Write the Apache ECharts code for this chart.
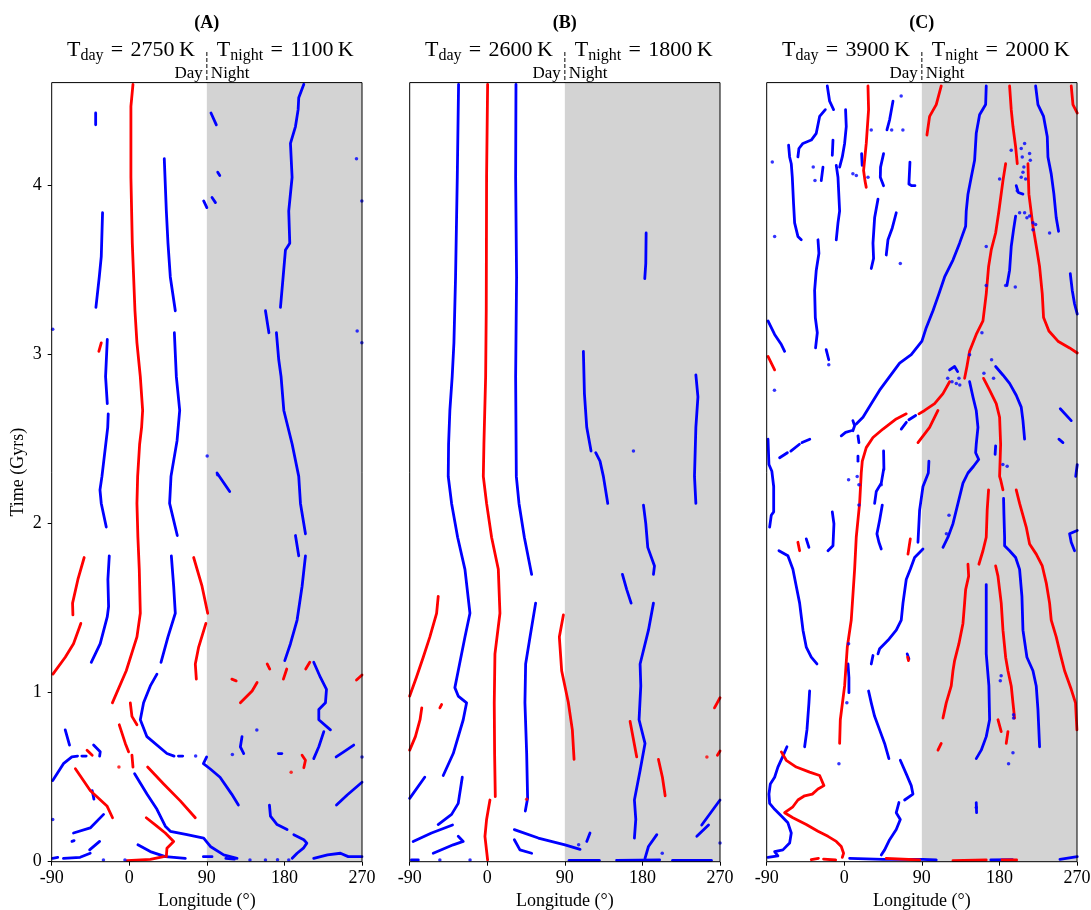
<!DOCTYPE html>
<html><head><meta charset="utf-8">
<script src="https://cdn.jsdelivr.net/npm/echarts@6/dist/echarts.min.js"></script>
<style>html,body{margin:0;padding:0;background:#fff}#c{width:1091px;height:910px}</style>
</head><body><div id="c"></div>
<script>
// ---------------- data ----------------
const lonTicks = [-90, 0, 90, 180, 270];
const timeTicks = [0, 1, 2, 3, 4];
const timeMax = 4.61;
const nightStart = 90;
const panelTitles = ['(A)', '(B)', '(C)'];
const dayTemps = [2750, 2600, 3900];
const nightTemps = [1100, 1800, 2000];

// Panel A
const A_red = [
 [[4.3,4.60],[1.9,4.47],[1.9,4.05],[3.5,3.66],[6.6,3.26],[8.9,3.07],[12.8,2.87],[15.5,2.67],[14.3,2.57],[12.0,2.47],[9.7,2.28],[8.9,2.12],[10,1.92],[11.6,1.73],[12.8,1.47],[8.9,1.33],[-3.5,1.13],[-19.6,0.94]],
 [[-32.5,3.07],[-35.3,3.02]],
 [[-52.3,1.80],[-59.6,1.67],[-65.8,1.53],[-65.4,1.46]],
 [[74.7,1.80],[84.4,1.63],[91,1.47]],
 [[88.9,1.41],[80.5,1.27],[76.6,1.17],[77.8,1.08]],
 [[-56.2,1.41],[-64.7,1.29],[-74.3,1.21],[-88.6,1.11]],
 [[1.2,0.94],[3.1,0.86],[8.9,0.81]],
 [[-11.6,0.81],[-4.6,0.70],[-0.8,0.65]],
 [[3.1,0.63],[4.3,0.56]],
 [[-49,0.66],[-43,0.63]],
 [[-62.5,0.55],[-45.1,0.42],[-25.9,0.33],[-19.4,0.26]],
 [[21.3,0.56],[39.9,0.46],[59.2,0.36],[76.6,0.26]],
 [[148.3,1.06],[142.5,1.01],[128.9,0.94]],
 [[119,1.08],[124,1.07]],
 [[160,1.17],[163,1.14]],
 [[182.7,1.14],[178.8,1.08]],
 [[209.4,1.18],[204.7,1.14]],
 [[200.5,0.63],[204.4,0.60],[202.5,0.556]],
 [[263.6,1.075],[270,1.105]],
 [[19.7,0.26],[32,0.21],[41.8,0.17],[51.5,0.12],[43.7,0.08],[43,0.03]],
 [[-2.7,0.006],[24.4,0.014],[39.9,0.03]]
];
const A_redDots = [[-12,0.56],[187.8,0.53]];
const A_blue = [
 [[-39,4.43],[-39,4.36]],
 [[40.6,4.16],[43,3.85],[44.9,3.66],[47.6,3.46],[53.4,3.26]],
 [[-31,3.84],[-32.5,3.58],[-34.8,3.46],[-38.7,3.28]],
 [[-25.5,3.09],[-27.5,2.87],[-25.5,2.71]],
 [[-24.4,2.65],[-25,2.57],[-31.7,2.28],[-34,2.2],[-32.5,2.12],[-26.7,1.98]],
 [[52.3,3.13],[54.6,2.87],[58.5,2.67],[55.4,2.49],[48.4,2.28],[46.8,2.12],[55.7,1.93]],
 [[202.5,4.60],[196.6,4.52],[195.9,4.45],[192.8,4.35],[187,4.25],[188.9,4.05],[185,3.85],[186.2,3.66],[181.2,3.62],[178.5,3.46],[175.4,3.28]],
 [[158,3.26],[162,3.13]],
 [[170.7,3.13],[173.4,2.97],[176.1,2.87],[179.3,2.67],[189,2.47],[196.6,2.28],[198.6,2.12],[204.4,1.94]],
 [[94.8,4.43],[101,4.36]],
 [[102.6,4.08],[105,4.06]],
 [[86.3,3.91],[90,3.87]],
 [[96,3.93],[100,3.90]],
 [[101.8,2.30],[116.5,2.19]],
 [[192.8,1.93],[196.6,1.81]],
 [[204.4,1.81],[200.5,1.63],[194.7,1.43],[187,1.29],[180.4,1.19]],
 [[-23.2,1.81],[-24.8,1.67],[-24,1.51],[-25.5,1.45],[-33.7,1.29],[-44.1,1.18]],
 [[48.8,1.81],[51.5,1.63],[53.4,1.47],[44.9,1.33],[36.8,1.18]],
 [[32.1,1.11],[24.4,1.04],[16.6,0.94],[12.8,0.84],[20.5,0.74],[43.7,0.64],[52,0.625]],
 [[57,0.625],[62,0.625]],
 [[-74.3,0.78],[-69.3,0.69]],
 [[-41.4,0.69],[-33.7,0.65],[-34.4,0.625]],
 [[-88.8,0.48],[-76.4,0.58],[-66.6,0.62],[-60,0.625]],
 [[-55,0.625],[-50,0.625]],
 [[-43,0.42],[-41,0.37]],
 [[6.2,0.52],[20.5,0.40],[32.1,0.31],[41.8,0.21],[47.6,0.18],[67,0.16],[86.3,0.14],[94.1,0.09],[109.5,0.04],[125,0.02]],
 [[89.8,0.62],[86,0.58],[93.7,0.55],[105.3,0.50],[118.8,0.40],[126.6,0.335]],
 [[162.6,0.335],[163.8,0.27],[171.5,0.22],[183.1,0.19]],
 [[190.9,0.16],[202.5,0.13],[206,0.11],[202,0.08],[194.7,0.05],[189,0.02]],
 [[214,1.18],[221.8,1.09],[228.8,1.02],[227.6,0.94],[219.9,0.90],[219.9,0.84],[233.4,0.78]],
 [[225.7,0.77],[219.9,0.68],[214,0.61]],
 [[130.8,0.74],[128.9,0.68],[132.8,0.64]],
 [[173,0.64],[177,0.64]],
 [[240,0.62],[248.8,0.65],[260.4,0.69]],
 [[240.4,0.335],[252.8,0.395],[270,0.47]],
 [[-64.7,0.17],[-45.3,0.20],[-29.8,0.28]],
 [[-66.5,0.12],[-64,0.125]],
 [[-46,0.07],[-34.4,0.12]],
 [[-76.4,0.02],[-57,0.026],[-45.3,0.05]],
 [[-89,0.02],[-83,0.025]],
 [[10,0.10],[24.4,0.06],[41.8,0.03],[65,0.02]],
 [[86,0.03],[96,0.03]],
 [[112,0.02],[122,0.015]],
 [[214,0.02],[230,0.04],[245,0.05],[254,0.03],[270,0.03]]
];
const A_blueDots = [[263.6,4.16],[269.8,3.91],[264.4,3.14],[269.8,3.07],[-88.8,3.15],[90.4,2.40],[102.4,2.29],[148,0.78],[119.6,0.635],[-88.8,0.25],[270,0.62],[77,0.625],[-30,0.01],[140,0.01],[158,0.01],[172,0.012],[185,0.01],[-5,0.01]];

// Panel B
const B_red = [
 [[0.4,4.60],[-0.8,4.05],[-1.2,3.26],[-1.9,2.87],[-3.9,2.47],[-4.6,2.28],[-0.8,2.12],[5,1.92],[12.8,1.73],[14.7,1.47],[8.9,1.23],[8.1,0.94],[8.5,0.64],[9.3,0.385]],
 [[-56.9,1.57],[-58.8,1.47],[-66.6,1.33],[-74.3,1.21],[-82.3,1.09],[-90,0.98]],
 [[-53,0.93],[-55,0.91]],
 [[-76,0.91],[-78,0.84],[-83.4,0.74],[-90,0.66]],
 [[3.1,0.365],[-0.8,0.25],[-2.7,0.15],[0.4,0.01]],
 [[88.3,1.46],[83.6,1.33],[86.3,1.13],[94.1,0.94],[98.7,0.78],[100.7,0.605]],
 [[165.7,0.83],[173.4,0.62]],
 [[198.6,0.605],[203.2,0.50],[206.4,0.39]],
 [[270,0.97],[263.6,0.91]],
 [[270,0.655],[267,0.63]]
];
const B_redDots = [[254.8,0.62],[45.7,0.37]];
const B_blue = [
 [[-33.3,4.60],[-34.8,4.05],[-36.8,3.46],[-38.7,3.07],[-40.7,2.87],[-43.4,2.67],[-44.9,2.47],[-45.3,2.28],[-41.4,2.12],[-34.4,1.92],[-25.9,1.73],[-20.1,1.47],[-25.9,1.33],[-33.7,1.13],[-37.6,1.03],[-33.7,0.98],[-24,0.94],[-27.9,0.84],[-39.5,0.64],[-51.1,0.51]],
 [[33.3,4.60],[32.9,4.05],[34,3.46],[32.9,2.87],[33.7,2.28],[36.8,2.12],[43,1.92],[51.5,1.70]],
 [[56.1,1.53],[49.6,1.33],[44.5,1.17],[43.7,0.94],[45.7,0.64],[46.8,0.375],[44.1,0.30]],
 [[-72.6,0.50],[-90,0.375]],
 [[-29,0.50],[-33.7,0.345],[-41.4,0.28],[-57,0.22]],
 [[-40.3,0.217],[-64.7,0.17],[-86,0.12]],
 [[-33.7,0.15],[-27.9,0.12],[-39.5,0.10],[-62.7,0.05]],
 [[31.4,0.19],[59.2,0.14],[90.2,0.10],[107.7,0.073]],
 [[31.4,0.13],[37.9,0.07],[51.5,0.05]],
 [[184.3,3.72],[183.9,3.54],[182.7,3.45]],
 [[111.5,3.02],[112.7,2.77],[115.4,2.57],[120.4,2.43]],
 [[125.8,2.42],[130.8,2.37],[134.7,2.28],[139.8,2.12]],
 [[242,2.88],[244.4,2.75],[242,2.57],[240.4,2.28],[242,2.12]],
 [[181.2,2.11],[183.9,2.0],[186.2,1.86],[194,1.75],[192.8,1.70]],
 [[156.8,1.70],[161.8,1.61],[166.9,1.53]],
 [[192.8,1.53],[187,1.37],[177.3,1.17],[178.1,1.04],[176.1,0.84],[183,0.70],[177.3,0.54],[170.7,0.365],[172.3,0.25],[170.7,0.14]],
 [[270,0.365],[248.8,0.217]],
 [[256.7,0.217],[243.1,0.15]],
 [[196.7,0.16],[187,0.09],[183,0.02]],
 [[119.2,0.17],[115.4,0.12]],
 [[-88,0.01],[-80,0.01]],
 [[95,0.008],[130,0.008]],
 [[150,0.008],[200,0.01]],
 [[215,0.008],[260,0.008]]
];
const B_blueDots = [[169.6,2.43],[106,0.10],[203,0.05],[270,0.11],[-55,0.01],[-20,0.01]];

// Panel C
const C_red = [
 [[27.5,4.59],[28.2,4.45],[25.5,4.25],[22.4,4.09],[24,4.03],[25.5,3.99]],
 [[-88.5,2.99],[-80.8,2.91]],
 [[112.5,4.59],[106.7,4.48],[99,4.41],[95.9,4.30]],
 [[191.8,4.59],[193.7,4.45],[195.7,4.35],[198.8,4.23],[200.7,4.13]],
 [[263.3,4.59],[265.3,4.48],[270.3,4.43]],
 [[187.2,4.13],[184.1,4.03],[179.4,3.85],[175.6,3.72],[170.5,3.62],[167.4,3.52],[164.7,3.36],[160.9,3.20],[153.1,3.12],[145.4,3.02],[142.3,2.93],[139.6,2.86]],
 [[122.2,2.84],[114.5,2.77],[104.8,2.71],[93.2,2.67],[86.6,2.65]],
 [[213.1,4.13],[214.2,3.95],[218.9,3.76],[223.5,3.62],[226.6,3.52],[229.7,3.36],[231.2,3.22],[237.4,3.14],[247.9,3.08],[261.4,3.04],[270.3,3.01]],
 [[71.9,2.65],[60.3,2.62],[44.9,2.56],[33.3,2.51],[25.5,2.45],[20.9,2.37],[19.7,2.30],[17.8,2.12],[13.9,1.92],[12,1.73],[8.1,1.43],[3.5,1.27],[0.4,1.04],[-4.6,0.84],[-5.4,0.70]],
 [[108.7,2.67],[99,2.57],[85.5,2.48]],
 [[161.6,2.86],[168.6,2.79],[176.3,2.71],[180.2,2.63],[181.4,2.47],[180.2,2.28],[181.4,2.26],[184.1,2.20]],
 [[-53.8,1.89],[-51.8,1.84]],
 [[76.6,1.91],[73.9,1.82]],
 [[167.4,2.20],[165.8,2.08],[164.7,1.92],[160.9,1.84],[156.2,1.76]],
 [[199.5,2.20],[203.4,2.12],[211.1,1.98],[215,1.88],[222.7,1.82],[229.7,1.75],[234.3,1.65],[238.2,1.53],[240.1,1.43],[245.9,1.33],[250.6,1.23],[255.6,1.13],[263.3,1.02],[268.3,0.94],[269.9,0.78]],
 [[143.5,1.76],[144.3,1.69],[140.8,1.61],[139.6,1.53],[137.7,1.41],[133,1.29],[128,1.19],[126.1,1.13],[124.1,1.04],[118.3,0.94],[114.5,0.85]],
 [[175.6,1.75],[178.3,1.69],[182.1,1.53],[184.1,1.37],[187.2,1.21],[189.9,1.13],[193.7,1.04],[195.7,0.94],[197.6,0.85]],
 [[112.5,0.70],[108.7,0.66]],
 [[178.3,0.84],[182.1,0.77]],
 [[189.9,0.77],[187.9,0.70]],
 [[73.5,1.21],[74.5,1.19]],
 [[-73,0.65],[-67.3,0.60],[-55.7,0.56],[-40.2,0.53],[-28.6,0.51],[-23.6,0.45],[-30.5,0.43],[-37.1,0.40],[-46,0.39],[-53.8,0.365],[-59.6,0.325],[-69.2,0.29],[-59.6,0.26],[-44.1,0.22],[-30.5,0.18],[-18.9,0.15],[-9.3,0.12],[-3.5,0.09],[-0.8,0.05],[-2.3,0.026]],
 [[-38.3,0.012],[-30,0.02]],
 [[-24,0.015],[-10,0.01]],
 [[48.7,0.02],[87.4,0.01]],
 [[126.1,0.006],[164.7,0.01]],
 [[183,0.01],[200,0.01]]
];
const C_redDots = [];
const C_blue = [
 [[-19.7,4.59],[-17,4.50],[-12.4,4.45]],
 [[56.5,4.5],[52.6,4.39],[49.5,4.33]],
 [[1.5,4.45],[2.3,4.35],[0.4,4.25],[-2.3,4.17],[-5.4,4.11]],
 [[-22,4.45],[-28.6,4.41],[-32.5,4.31],[-38.3,4.27],[-48,4.25],[-52.6,4.22],[-53.8,4.17]],
 [[-64.6,4.24],[-63.4,4.17],[-61.5,4.13],[-60.3,4.05],[-58.8,3.89],[-57.6,3.78],[-53.8,3.70],[-49.9,3.68]],
 [[-13.1,4.27],[-13.9,4.18]],
 [[-9.3,4.12],[-7.3,4.05],[-5.4,3.85],[-7.3,3.78],[-9.3,3.68]],
 [[-24.7,4.11],[-26.7,4.03]],
 [[20.1,4.19],[20.8,4.12]],
 [[45.6,4.19],[42.1,4.11],[41.8,4.05],[45.6,4.0]],
 [[76.2,4.14],[75,4.01],[78,4.0],[82,4.0]],
 [[39.1,3.92],[35.2,3.81],[33.3,3.66],[34,3.57],[31.3,3.51]],
 [[60.3,3.84],[55.7,3.75],[50.7,3.68],[48.7,3.59]],
 [[-30.5,3.68],[-29.4,3.60],[-32.5,3.50],[-34.4,3.38],[-33.6,3.22],[-31.3,3.13],[-33.3,3.04]],
 [[-88.5,3.20],[-80.8,3.12],[-73,3.06],[-69.2,3.02]],
 [[-21,3.03],[-18,2.97]],
 [[164.7,4.59],[164,4.48],[157,4.42],[153.1,4.31],[151.2,4.15],[147.3,4.05],[143.5,3.95],[141.5,3.85],[140.8,3.76],[133.8,3.66],[126.1,3.56],[116.4,3.46],[109.8,3.36],[102.9,3.26],[95.1,3.16],[90.1,3.08],[77.7,3.0],[64.2,2.95],[52.6,2.87],[41,2.79],[31.3,2.71],[21.7,2.63],[13.9,2.59]],
 [[10,2.61],[12,2.58],[10,2.55]],
 [[-3.5,2.52],[1.5,2.54],[8,2.55]],
 [[222,4.59],[224.7,4.48],[231.2,4.41],[235.5,4.29],[236.3,4.17],[240.1,4.07],[243.2,3.95],[245.9,3.81],[248.6,3.73]],
 [[198.8,3.82],[196.4,3.74],[193.7,3.64],[191.8,3.50],[188.7,3.41]],
 [[199.5,4.0],[201.8,3.96],[207.3,3.95]],
 [[262.2,3.48],[264.5,3.38],[267.2,3.30],[270.3,3.24]],
 [[122.2,2.91],[128,2.93],[131.5,2.90]],
 [[175.6,2.93],[184,2.88],[191.8,2.83],[199.5,2.76],[205.3,2.69],[207.3,2.61],[209.2,2.50]],
 [[250.6,2.68],[263.3,2.61]],
 [[249,2.50],[253.7,2.48]],
 [[66.1,2.56],[72,2.60]],
 [[75,2.615],[82.8,2.64]],
 [[145.4,2.84],[149.3,2.75],[153.1,2.67],[155.1,2.57],[153.1,2.47],[152.4,2.42],[156,2.38],[150,2.34],[143.5,2.30],[137.7,2.24],[131.9,2.12],[126.1,2.0],[120.3,1.92],[114.5,1.86]],
 [[-88.5,2.50],[-87.4,2.35],[-84,2.31],[-82.7,2.30],[-81.9,2.22],[-81.9,2.07],[-84.7,2.05],[-86.6,1.98]],
 [[-75,2.39],[-66,2.42]],
 [[-62,2.43],[-52,2.47]],
 [[-49,2.48],[-40,2.50]],
 [[15.9,2.52],[17,2.48]],
 [[15.9,2.40],[15.9,2.37]],
 [[45.6,2.43],[46,2.32]],
 [[98.2,2.37],[97.5,2.30],[91.3,2.22],[87.4,2.08],[85.5,1.89]],
 [[175.6,2.46],[175,2.41]],
 [[270.3,2.35],[268.5,2.28]],
 [[45.6,2.32],[42.9,2.24],[37.1,2.19],[35.2,2.12]],
 [[44.1,2.11],[41,2.02],[37.9,1.94],[40.2,1.89],[42.9,1.85]],
 [[-13.9,2.07],[-12,2.0],[-13.1,1.87],[-18.9,1.84]],
 [[-44.1,1.91],[-41,1.86]],
 [[91.3,1.85],[81.6,1.80],[76.6,1.73],[71.9,1.67],[68.1,1.53],[66.1,1.43],[60.3,1.37],[50.7,1.31],[41,1.26],[39.1,1.23]],
 [[33.3,1.22],[31.3,1.17]],
 [[184.8,2.15],[185.2,2.06],[186,1.92],[186,1.87],[191.8,1.84],[198.8,1.80],[203.4,1.73],[206.1,1.57],[207.3,1.37],[211.9,1.21],[218.9,1.13],[222.7,1.04],[224.7,0.90],[226.6,0.68]],
 [[270.3,1.96],[261.4,1.94],[263.3,1.89],[267.2,1.84]],
 [[164.7,1.64],[164.7,1.43],[164.7,1.23],[167.8,1.04],[168.6,0.84],[164.7,0.74],[158.9,0.66],[153.1,0.61]],
 [[28.2,1.01],[31.3,0.94],[35.2,0.86],[41,0.78],[46.8,0.70],[51.8,0.61]],
 [[65,0.60],[71.9,0.52],[77.7,0.45],[79.7,0.40],[70,0.365]],
 [[63.4,0.35],[60.3,0.29],[65,0.25],[60.3,0.19],[52.6,0.13],[46.8,0.07],[42.9,0.04]],
 [[-40.2,1.01],[-41,0.94],[-43.3,0.78],[-46,0.68]],
 [[-75.8,1.84],[-65.4,1.81],[-59.6,1.73],[-55.7,1.63],[-51.8,1.53],[-47.9,1.37],[-44.1,1.27],[-38.3,1.21],[-31.7,1.17]],
 [[4.3,1.17],[5.4,1.09],[5.4,1.0]],
 [[73,1.23],[75,1.20]],
 [[153.1,0.35],[153.5,0.29]],
 [[-66.5,0.68],[-71.2,0.625],[-77,0.56],[-80.8,0.50],[-85.8,0.46],[-87.4,0.40],[-86.6,0.345],[-80.8,0.31],[-73,0.27],[-65.4,0.23],[-61.5,0.17],[-63.4,0.11],[-71.2,0.07],[-80.8,0.06],[-77,0.035],[-88.5,0.026]],
 [[6.2,0.02],[44.9,0.014],[91.3,0.014],[106.7,0.01]],
 [[250.2,0.014],[270.3,0.03]],
 [[170,0.01],[195,0.012]]
];
const C_blueDots = [[31.3,4.33],[55,4.33],[68,4.33],[66,4.53],[10,4.07],[14,4.06],[27.5,4.05],[-36,4.11],[-34,4.03],[-83.5,4.14],[-80.8,3.70],[65,3.54],
 [193.7,4.21],[205.3,4.22],[209.2,4.25],[215,4.19],[206.5,4.17],[215.8,4.15],[208.4,4.11],[207.3,4.08],[205.3,4.05],[210.4,4.04],[180.2,4.04],[200.7,3.97],[203.4,3.84],[209.2,3.84],[211.9,3.81],[215,3.82],[218.9,3.78],[222,3.77],[218.9,3.74],[238.2,3.72],[164.7,3.64],[164.7,3.41],[187.2,3.41],[198.4,3.40],[159.7,3.13],
 [120,2.86],[125,2.84],[130,2.83],[133,2.86],[134,2.82],[145.4,3.0],[162,2.89],[173.2,2.86],[170.9,2.97],
 [-18,2.94],[-81,2.79],[184,2.35],[189,2.34],[15,2.28],[17,2.23],[5,2.26],[17,2.11],[42.9,2.23],
 [121.5,2.05],[118.5,1.94],[182,1.10],[181,1.07],[196.4,0.87],[196.4,0.85],[5,1.29],[3,0.94],[-6.2,0.58],[195.7,0.645],[190.6,0.58],[153.1,0.32]];

// ---------------- chart ----------------
const FONT = 'Liberation Serif';
const RED = '#ff0000', BLUE = '#0000ff', GRAY = '#d3d3d3';
const GRID_LEFTS = [51.7, 409.7, 766.7];
const GRID_TOP = 82.6, GRID_W = 310.3, GRID_H = 779.1;

const panels = [
 {red: A_red, blue: A_blue, redDots: A_redDots, blueDots: A_blueDots},
 {red: B_red, blue: B_blue, redDots: B_redDots, blueDots: B_blueDots},
 {red: C_red, blue: C_blue, redDots: C_redDots, blueDots: C_blueDots}
];

const grid = [], xAxis = [], yAxis = [], series = [];
panels.forEach((p, i) => {
  grid.push({left: GRID_LEFTS[i], top: GRID_TOP, width: GRID_W, height: GRID_H, show: true,
    containLabel: false, outerBoundsMode: 'none',
    borderColor: '#000', borderWidth: 1, backgroundColor: 'rgba(0,0,0,0)', z: 20});
  xAxis.push({gridIndex: i, type: 'value', min: lonTicks[0], max: lonTicks[lonTicks.length - 1], interval: 90,
    name: 'Longitude (°)', nameLocation: 'middle', nameGap: 28,
    nameTextStyle: {fontFamily: FONT, fontSize: 18, color: '#000'},
    axisLine: {show: false, onZero: false}, splitLine: {show: false},
    axisTick: {show: true, length: 4, inside: false, lineStyle: {color: '#000', width: 1}},
    axisLabel: {fontFamily: FONT, fontSize: 18, color: '#000', margin: 8}});
  yAxis.push({gridIndex: i, type: 'value', min: 0, max: timeMax,
    name: i === 0 ? 'Time (Gyrs)' : '', nameLocation: 'middle', nameGap: 24, nameRotate: 90,
    nameTextStyle: {fontFamily: FONT, fontSize: 18, color: '#000'},
    axisLine: {show: false, onZero: false}, splitLine: {show: false},
    axisTick: {show: i === 0, length: 4, customValues: timeTicks, lineStyle: {color: '#000', width: 1}},
    axisLabel: {show: i === 0, customValues: timeTicks, fontFamily: FONT, fontSize: 18, color: '#000', margin: 10}});
  // night shading
  series.push({type: 'line', xAxisIndex: i, yAxisIndex: i, data: [[nightStart, 0]], showSymbol: false, symbol: 'none',
    lineStyle: {opacity: 0}, silent: true, z: 1,
    markArea: {silent: true, itemStyle: {color: GRAY}, data: [[{xAxis: nightStart}, {xAxis: lonTicks[lonTicks.length - 1]}]]}});
  const addLines = (segs, color) => segs.forEach(seg => series.push({
    type: 'line', xAxisIndex: i, yAxisIndex: i, data: seg, showSymbol: false, symbol: 'none', silent: true, z: 5,
    lineStyle: {color: color, width: 2.8, cap: 'round', join: 'round'}}));
  addLines(p.blue, BLUE);
  addLines(p.red, RED);
  series.push({type: 'scatter', xAxisIndex: i, yAxisIndex: i, data: p.blueDots, symbolSize: 3.5, silent: true, z: 5,
    itemStyle: {color: BLUE}});
  series.push({type: 'scatter', xAxisIndex: i, yAxisIndex: i, data: p.redDots, symbolSize: 3.5, silent: true, z: 5,
    itemStyle: {color: RED}});
});

const chart = echarts.init(document.getElementById('c'), null, {renderer: 'canvas'});
chart.setOption({animation: false, backgroundColor: '#fff', grid, xAxis, yAxis, series});

// annotations tied to axis positions
const graphic = [];
panels.forEach((p, i) => {
  const [xs, yTop] = chart.convertToPixel({xAxisIndex: i, yAxisIndex: i}, [nightStart, timeMax]);
  graphic.push({type: 'text', x: xs, y: 23, style: {text: panelTitles[i], fontFamily: FONT, fontSize: 18, fontWeight: 'bold', fill: '#000', align: 'center', verticalAlign: 'middle'}});
  const rich = {m: {fontFamily: FONT, fontSize: 22, fill: '#000'}, s: {fontFamily: FONT, fontSize: 16, fill: '#000', padding: [12, 0, 0, 0]}};
  const eq = '\u2004=\u2004';
  graphic.push({type: 'text', x: xs - 12, y: 50, style: {text: '{m|T}{s|day}{m|' + eq + dayTemps[i] + '\u2009K}', rich, align: 'right', verticalAlign: 'middle'}});
  graphic.push({type: 'text', x: xs + 10, y: 50, style: {text: '{m|T}{s|night}{m|' + eq + nightTemps[i] + '\u2009K}', rich, align: 'left', verticalAlign: 'middle'}});
  graphic.push({type: 'line', shape: {x1: xs, y1: 52, x2: xs, y2: yTop}, style: {stroke: '#000', lineWidth: 1, lineDash: [4, 2]}});
  graphic.push({type: 'text', x: xs - 4, y: 74, style: {text: 'Day', fontFamily: FONT, fontSize: 17, fill: '#000', align: 'right', verticalAlign: 'middle'}});
  graphic.push({type: 'text', x: xs + 4, y: 74, style: {text: 'Night', fontFamily: FONT, fontSize: 17, fill: '#000', align: 'left', verticalAlign: 'middle'}});
});
chart.setOption({graphic});
</script></body></html>
